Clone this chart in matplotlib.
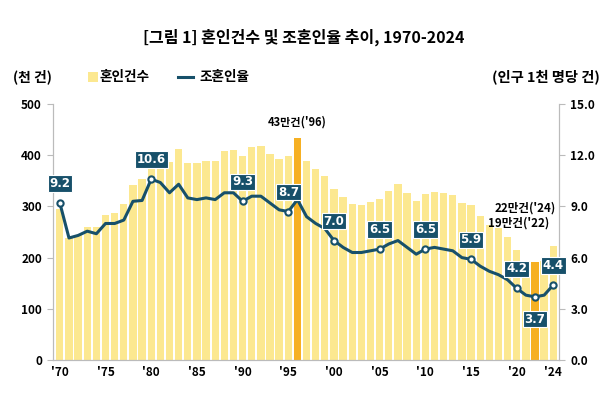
import matplotlib
matplotlib.use("Agg")
import matplotlib.pyplot as plt
import numpy as np
from matplotlib.patches import Rectangle
from matplotlib.lines import Line2D

plt.rcParams['font.family'] = ['Noto Sans CJK KR', 'DejaVu Sans']

years = list(range(1970, 2025))
marriages = [295, 239, 245, 259, 260, 283, 287, 304, 342, 353,
             401, 405, 386, 412, 384, 384, 389, 389, 408, 410,
             398, 417, 419, 402, 392, 398, 434, 389, 373, 359,
             334, 318, 305, 303, 309, 314, 330, 343, 327, 310,
             325, 328, 326, 322, 306, 303, 282, 264, 257, 240,
             214, 193, 192, 194, 222]
rates = [9.2, 7.15, 7.3, 7.55, 7.4, 8.0, 8.0, 8.2, 9.3, 9.35,
         10.6, 10.4, 9.8, 10.3, 9.5, 9.4, 9.5, 9.4, 9.8, 9.8,
         9.3, 9.6, 9.6, 9.2, 8.8, 8.7, 9.4, 8.4, 8.0, 7.7,
         7.0, 6.6, 6.3, 6.3, 6.4, 6.5, 6.8, 7.0, 6.6, 6.2,
         6.5, 6.6, 6.5, 6.4, 6.0, 5.9, 5.5, 5.2, 5.0, 4.7,
         4.2, 3.8, 3.7, 3.8, 4.4]
highlight_years = [1996, 2022]
label_years = [1970, 1980, 1990, 1995, 2000, 2005, 2010, 2015, 2020, 2022, 2024]
below_label_years = [2022]
xtick_years = [1970, 1975, 1980, 1985, 1990, 1995, 2000, 2005, 2010, 2015, 2020, 2024]
xtick_labels = ["'70", "'75", "'80", "'85", "'90", "'95", "'00", "'05", "'10", "'15", "'20", "'24"]
left_ticks = [0, 100, 200, 300, 400, 500]
right_ticks = [0.0, 3.0, 6.0, 9.0, 12.0, 15.0]

bar_color = '#FCE890'
hi_color = '#F6B023'
line_color = '#17506A'

fig = plt.figure(figsize=(6.07, 3.95), dpi=100)
ax = fig.add_axes([0.0873, 0.0886, 0.834, 0.648])
ax2 = ax.twinx()

colors = [hi_color if y in highlight_years else bar_color for y in years]
ax.bar(years, marriages, width=0.8, color=colors, zorder=1)
ax.set_xlim(1969.25, 2024.65)
ax.set_ylim(0, 500)
ax.set_yticks(left_ticks)
ax.set_yticklabels([str(t) for t in left_ticks], fontsize=8.5, fontweight='bold')
ax.set_xticks(xtick_years)
ax.set_xticklabels(xtick_labels, fontsize=8.5, fontweight='bold')
ax.tick_params(axis='x', length=0, pad=4)
ax.tick_params(axis='y', length=4, color='#BBBBBB', pad=4)

ax2.set_ylim(0, 15)
ax2.set_yticks(right_ticks)
ax2.set_yticklabels([f"{t:.1f}" for t in right_ticks], fontsize=8.5, fontweight='bold')
ax2.tick_params(axis='y', length=4, color='#BBBBBB', pad=4)

for a in (ax, ax2):
    a.spines['top'].set_visible(False)
    a.spines['left'].set_color('#BBBBBB')
    a.spines['right'].set_color('#BBBBBB')
    a.spines['bottom'].set_color('#BBBBBB')

ax2.plot(years, rates, color=line_color, lw=2.2, solid_joinstyle='round', zorder=3)
lx = [y for y in label_years]
ly = [rates[years.index(y)] for y in label_years]
ax2.plot(lx, ly, 'o', ms=4.5, mfc='white', mec=line_color, mew=1.5, zorder=4)
for x, v in zip(lx, ly):
    off = -16 if x in below_label_years else 14
    ax2.annotate(f"{v:.1f}", (x, v), xytext=(0, off), textcoords='offset points',
                 ha='center', va='center', fontsize=8.5, fontweight='bold', color='white',
                 family='DejaVu Sans',
                 bbox=dict(boxstyle='square,pad=0.15', fc=line_color, ec='white', lw=0.8),
                 zorder=5)

ax.annotate("43만건('96)", (1996, 434), xytext=(0, 7), textcoords='offset points',
            ha='center', va='bottom', fontsize=8, fontweight='bold')
ax.text(2024.3, 297, "22만건('24)", ha='right', va='center', fontsize=8.3, fontweight='bold')
ax.text(2023.6, 268, "19만건('22)", ha='right', va='center', fontsize=8.3, fontweight='bold')

fig.text(0.5, 0.906, "[그림 1] 혼인건수 및 조혼인율 추이, 1970-2024", ha='center', va='center',
         fontsize=11.5, fontweight='bold')
fig.text(0.053, 0.805, "(천 건)", ha='center', va='center', fontsize=10, fontweight='bold')
fig.text(0.988, 0.805, "(인구 1천 명당 건)", ha='right', va='center', fontsize=10.3, fontweight='bold')

# legend
fig.patches.append(Rectangle((0.145, 0.793), 0.016, 0.024, transform=fig.transFigure,
                             fc=bar_color, ec='none'))
fig.text(0.164, 0.805, "혼인건수", ha='left', va='center', fontsize=9.8, fontweight='bold')
fig.lines.append(Line2D([0.293, 0.318], [0.805, 0.805], transform=fig.transFigure,
                        color=line_color, lw=2.2))
fig.text(0.328, 0.805, "조혼인율", ha='left', va='center', fontsize=9.8, fontweight='bold')

fig.savefig("out.png", dpi=100)
